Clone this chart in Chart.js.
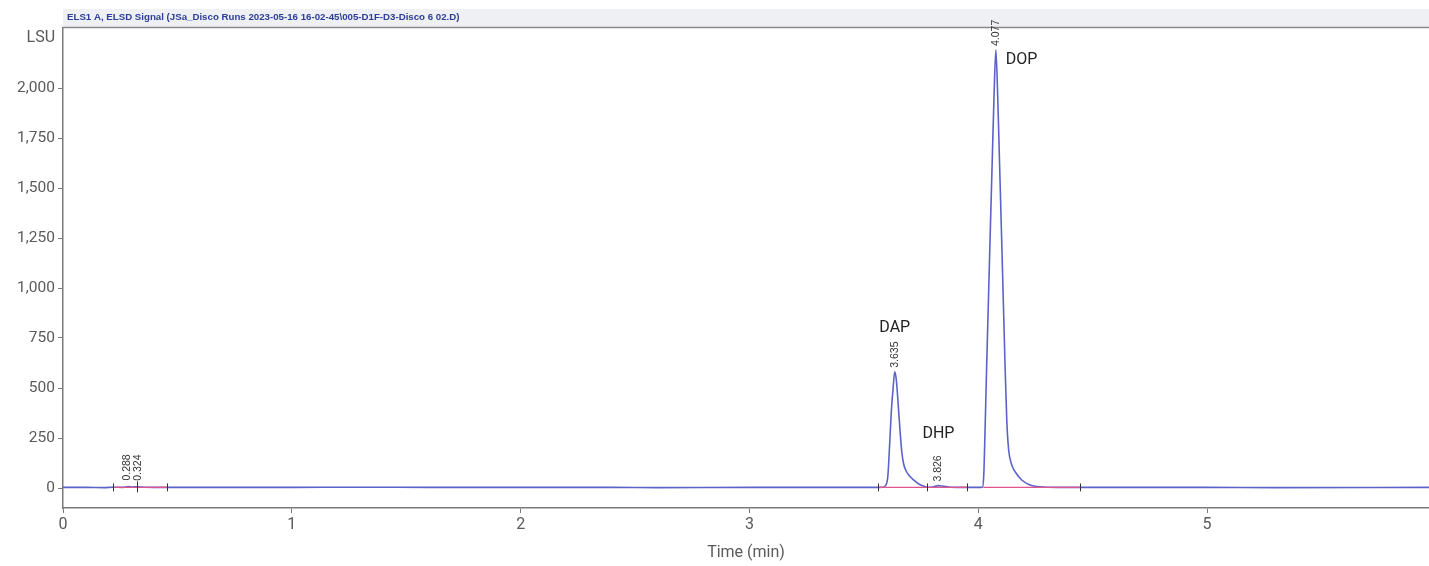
<!DOCTYPE html>
<html>
<head>
<meta charset="utf-8">
<script src="https://cdn.jsdelivr.net/npm/chart.js@4"></script>
<style>
  html, body { margin:0; padding:0; background:#fff; }
  #wrap { width:1429px; height:566px; }
</style>
</head>
<body>
<div id="wrap"><canvas id="c" width="1429" height="566"></canvas></div>
<script>
// ── Signal ──────────────────────────────────────────────────
const times = [0.00,0.10,0.18,0.22,0.26,0.288,0.300,0.324,0.36,0.45,0.60,1.00,1.30,1.60,2.00,2.40,2.60,3.00,3.20,3.40,3.560,
  3.580,3.595,3.605,3.612,3.620,3.628,3.635,3.642,3.650,3.658,3.666,3.674,3.685,3.700,3.720,3.740,3.760,3.780,
  3.800,3.826,3.850,3.880,3.950,4.000,
  4.018,4.024,4.030,4.037,4.045,4.053,4.061,4.069,4.077,4.085,4.093,4.101,4.109,4.117,4.125,4.133,4.145,4.165,4.190,4.226,4.270,
  4.350,4.500,5.000,5.300,5.970];
const lsu = [3,3,2,4,3,7,5,6,4,3,3,3,4,3,3,3,2,3,3,3,3,
  4,12,60,200,380,500,581,540,420,290,180,120,85,60,38,20,10,4,
  5,12,8,4,3,3,
  4,60,300,620,960,1300,1630,1960,2190,1960,1630,1300,960,620,330,190,120,75,40,15,6,
  3,3,3,2,3];

// integration baselines (pink) and their marks
const baseStart = [0.219, 3.562, 3.776, 4.022];
const baseEnd   = [0.455, 3.776, 3.951, 4.445];
const baseLevel = 3;
const markTimes = [0.219, 0.455, 3.562, 3.776, 3.951, 4.445];

// peak retention-time labels
const rtLabels = ['0.288','0.324','3.635','3.826','4.077'];
const rtTimes  = [0.288, 0.324, 3.635, 3.826, 4.077];
const rtTops   = [7, 6, 581, 12, 2190];

// compound names
const names     = ['DAP','DHP','DOP'];
const nameTimes = [3.635, 3.826, 4.077];
const nameVals  = [800, 270, 2140];

const yTicks = [0,250,500,750,1000,1250,1500,1750,2000];
const xTicks = [0,1,2,3,4,5];
const header = 'ELS1 A, ELSD Signal (JSa_Disco Runs 2023-05-16 16-02-45\\005-D1F-D3-Disco 6 02.D)';

const AXIS = '#7a7a7a', TXT = '#5a5a5a', BLUE = '#5b63c9', PINK = '#e2558c';
const FONT = "Roboto, 'Noto Sans', sans-serif";

const signal = times.map((t, i) => ({ x:t, y:lsu[i] }));
const baseSets = baseStart.map((s, i) => ({
  data:[{x:s, y:baseLevel},{x:baseEnd[i], y:baseLevel}],
  borderColor:PINK, borderWidth:1.3, pointRadius:0, showLine:true, fill:false
}));

// ── Decorations drawn around the plot ──────────────────────
const deco = {
  id:'deco',
  beforeDraw(chart) {
    const ctx = chart.ctx, a = chart.chartArea;
    ctx.save();
    ctx.fillStyle = '#eef0f3';
    ctx.fillRect(a.left, 9, 1429 - a.left, 18);
    ctx.fillStyle = '#2b3d98';
    ctx.font = "bold 9.7px 'Liberation Sans', Arial, sans-serif";
    ctx.textBaseline = 'alphabetic';
    ctx.fillText(header, a.left + 4, 20);
    ctx.restore();
  },
  afterDraw(chart) {
    const ctx = chart.ctx, a = chart.chartArea;
    const xs = chart.scales.x, ys = chart.scales.y;
    ctx.save();
    // top border
    ctx.strokeStyle = '#8a8a8a'; ctx.lineWidth = 1.5;
    ctx.beginPath(); ctx.moveTo(a.left, a.top - 0.5); ctx.lineTo(a.right, a.top - 0.5); ctx.stroke();

    // LSU unit
    ctx.fillStyle = TXT; ctx.font = '16px ' + FONT;
    ctx.textAlign = 'right'; ctx.textBaseline = 'middle';
    ctx.fillText('LSU', 55, 38);

    // axis title
    ctx.textAlign = 'center';
    ctx.fillText('Time (min)', (a.left + a.right) / 2, 553);

    // baseline marks
    ctx.strokeStyle = '#333'; ctx.lineWidth = 1;
    const by = ys.getPixelForValue(baseLevel);
    markTimes.forEach(t => {
      const px = Math.round(xs.getPixelForValue(t)) + 0.5;
      ctx.beginPath(); ctx.moveTo(px, by - 4); ctx.lineTo(px, by + 4); ctx.stroke();
    });

    // retention time labels (rotated)
    ctx.fillStyle = '#333';
    ctx.font = "10.5px 'Liberation Sans', Arial, sans-serif";
    ctx.textAlign = 'left'; ctx.textBaseline = 'middle';
    rtLabels.forEach((s, i) => {
      const px = xs.getPixelForValue(rtTimes[i]);
      const py = ys.getPixelForValue(rtTops[i]) - 4;
      if (i === 1) {
        ctx.beginPath(); ctx.moveTo(Math.round(px) + 0.5, by + 5); ctx.lineTo(Math.round(px) + 0.5, by - 6); ctx.stroke();
      }
      ctx.save();
      ctx.translate(px + (i === 0 ? -2 : (i === 1 ? 1 : 0)), py - (i < 2 ? 2 : 0));
      ctx.rotate(-Math.PI / 2);
      ctx.fillText(s, 0, 0);
      ctx.restore();
    });

    // compound names
    ctx.fillStyle = '#222'; ctx.font = '16px ' + FONT;
    ctx.textBaseline = 'middle';
    names.forEach((n, i) => {
      let px = xs.getPixelForValue(nameTimes[i]);
      const py = ys.getPixelForValue(nameVals[i]);
      if (n === 'DOP') { ctx.textAlign = 'left'; px += 10; }
      else ctx.textAlign = 'center';
      ctx.fillText(n, px, py);
    });
    ctx.restore();
  }
};

new Chart(document.getElementById('c').getContext('2d'), {
  type:'scatter',
  data:{ datasets:[
    ...baseSets,
    { data:signal, borderColor:BLUE, borderWidth:1.6, pointRadius:0, showLine:true, fill:false,
      cubicInterpolationMode:'monotone' }
  ]},
  options:{
    responsive:false, maintainAspectRatio:false, animation:false,
    layout:{ padding:{ top:28, right:0, left:0, bottom:0 } },
    plugins:{ legend:{display:false}, tooltip:{enabled:false} },
    scales:{
      x:{ type:'linear', min:0, max:5.97,
          afterBuildTicks:s => { s.ticks = xTicks.map(v => ({value:v})); },
          afterFit:s => { s.height = 58; },
          ticks:{ color:TXT, font:{family:FONT, size:16}, padding:2, callback:v => v },
          grid:{ drawOnChartArea:false, color:AXIS, tickLength:5 },
          border:{ color:AXIS, width:1.5 } },
      y:{ min:-100, max:2300,
          afterBuildTicks:s => { s.ticks = yTicks.map(v => ({value:v})); },
          afterFit:s => { s.width = 63; },
          ticks:{ color:TXT, font:{family:FONT, size:15.5}, padding:3,
                  callback:v => v.toLocaleString('en-US') },
          grid:{ drawOnChartArea:false, color:AXIS, tickLength:5 },
          border:{ color:AXIS, width:1.5 } }
    }
  },
  plugins:[deco]
});
</script>
</body>
</html>
